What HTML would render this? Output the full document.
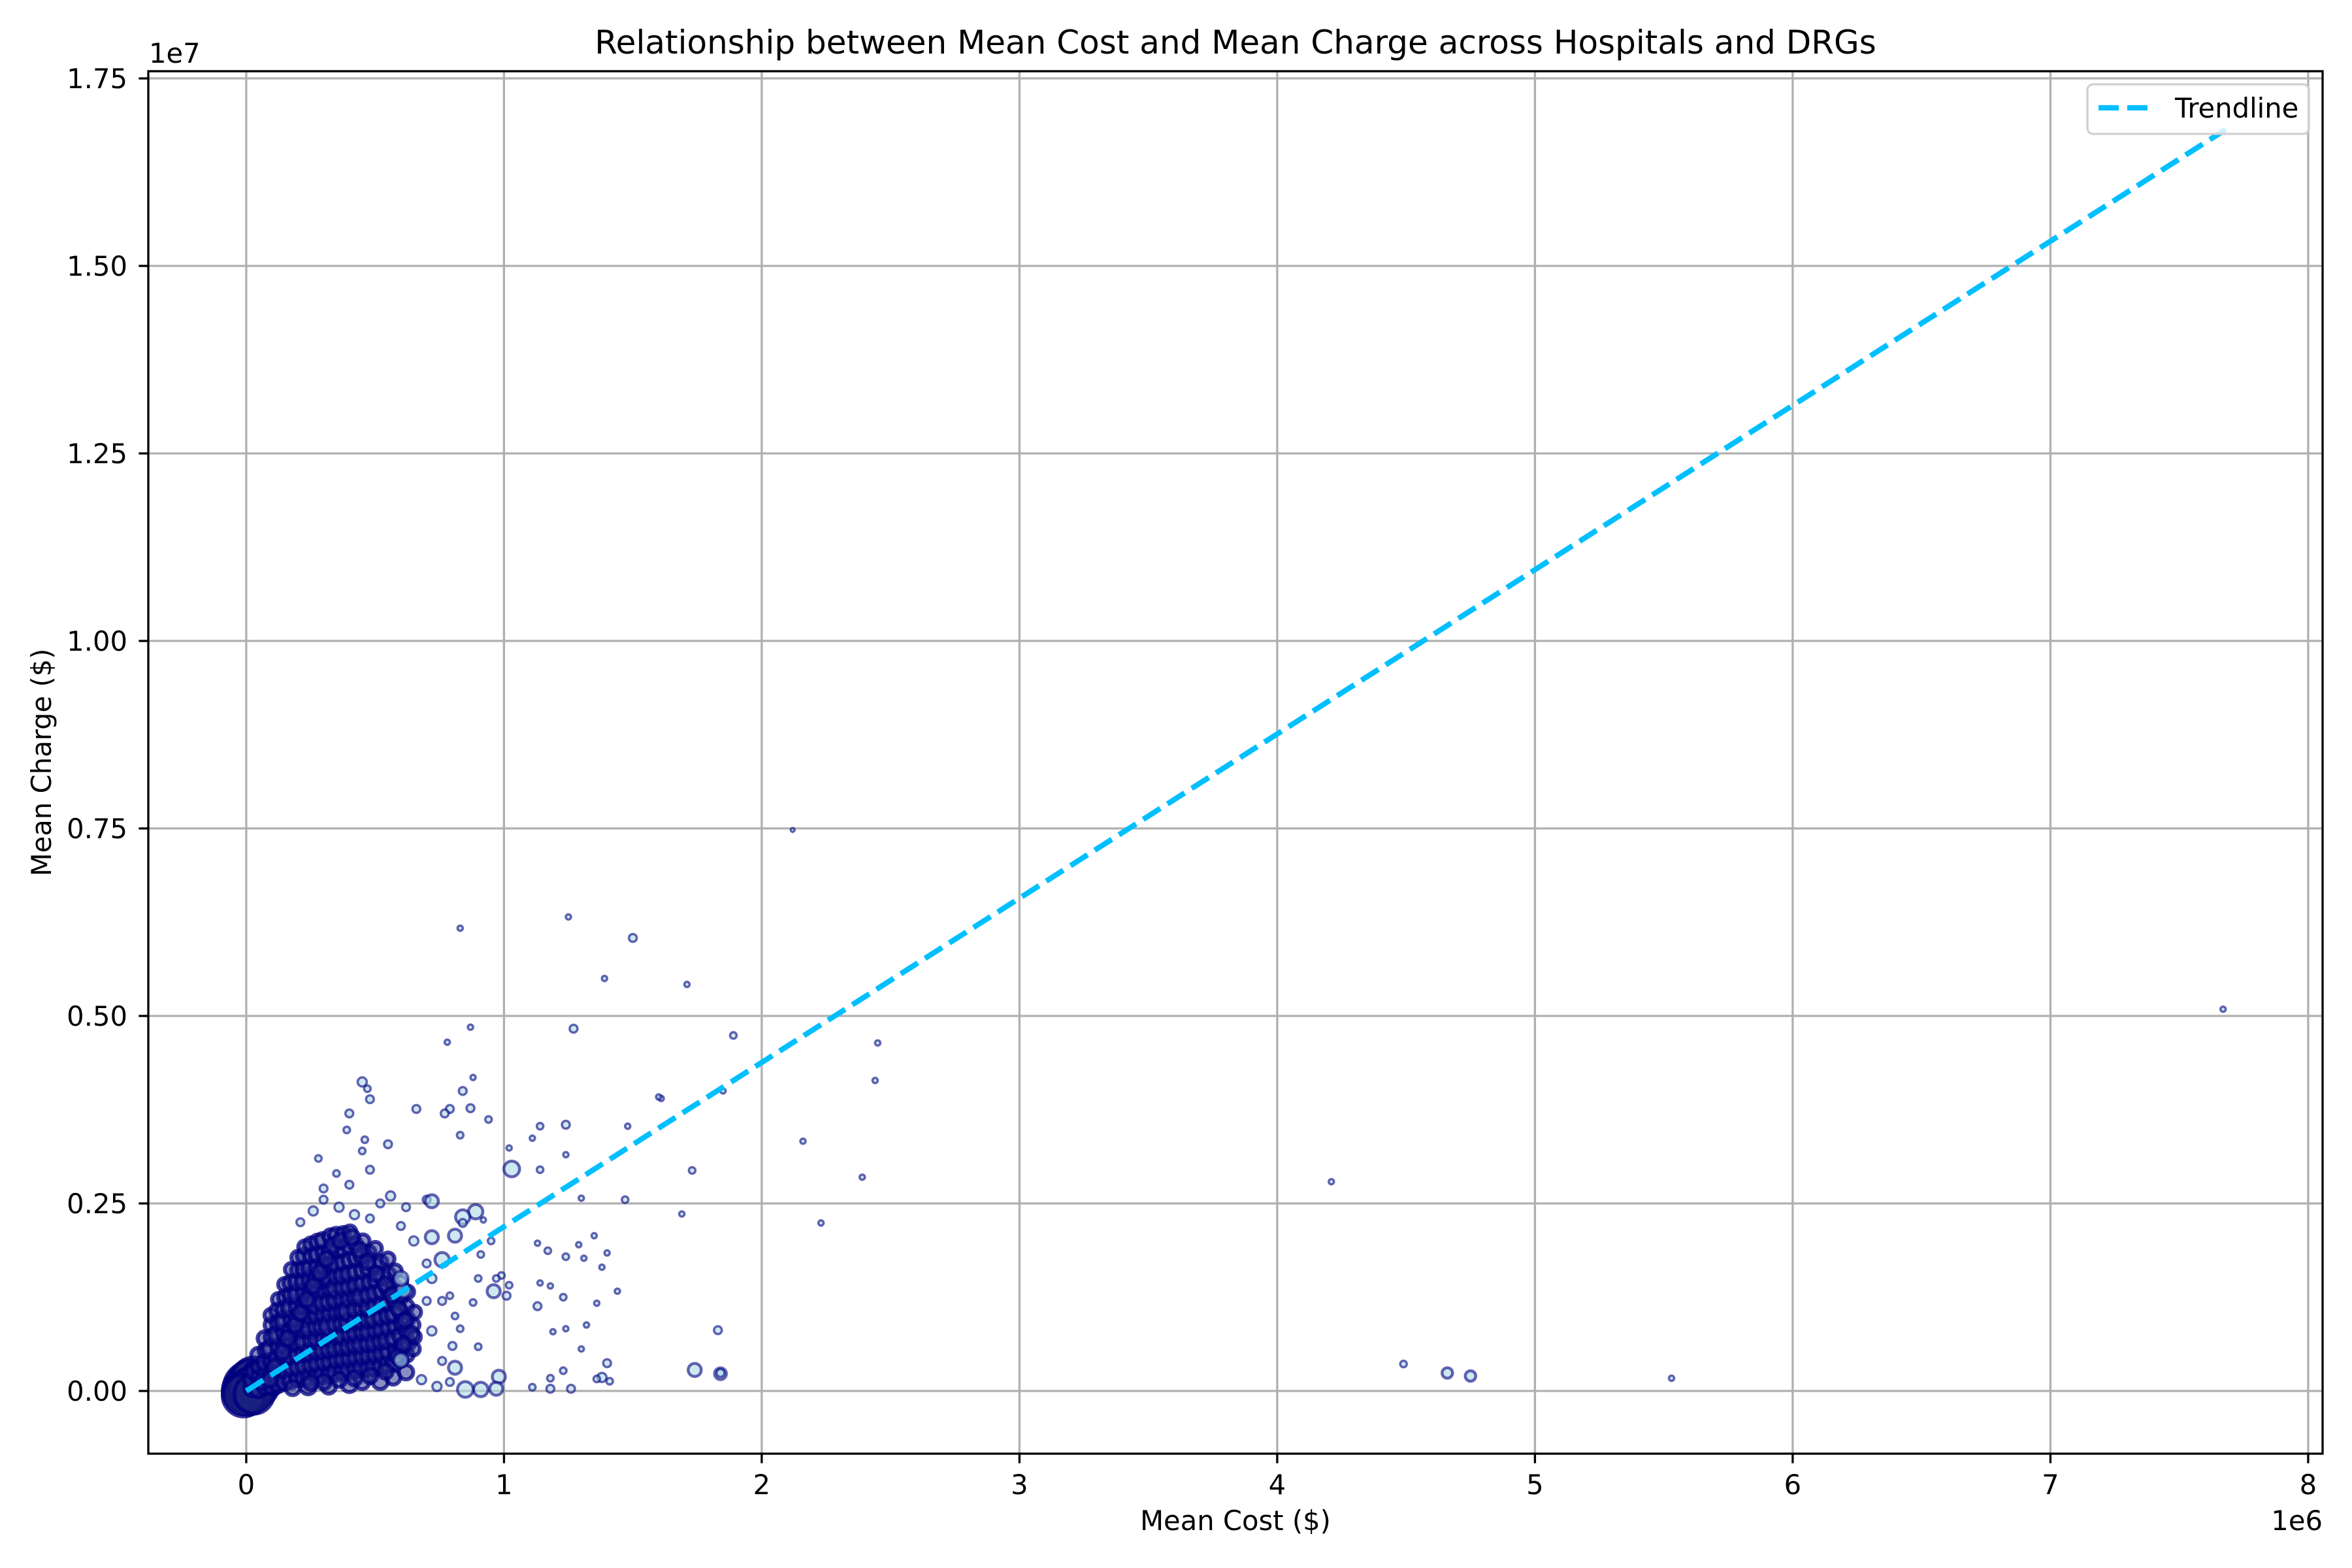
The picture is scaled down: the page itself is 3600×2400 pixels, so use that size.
<!DOCTYPE html>
<html><head><meta charset="utf-8"><style>
html,body{margin:0;padding:0;background:#fff;}
svg{display:block;font-family:"DejaVu Sans","Liberation Sans",sans-serif;}
</style></head><body>
<svg id="chart" width="3600" height="2400" viewBox="0 0 3600 2400" xmlns="http://www.w3.org/2000/svg">
<rect x="0" y="0" width="3600" height="2400" fill="#fff"/>
<g id="grid"></g>
<g id="points"></g>
<g id="trend"></g>
<g id="axes"></g>
<text x="1891" y="82" font-size="50" text-anchor="middle">Relationship between Mean Cost and Mean Charge across Hospitals and DRGs</text>
<text x="1891" y="2342" font-size="41.7" text-anchor="middle">Mean Cost ($)</text>
<text transform="translate(78,1167) rotate(-90)" font-size="41.7" text-anchor="middle">Mean Charge ($)</text>
<text x="3555" y="2342" font-size="41.7" text-anchor="end">1e6</text>
<text x="228" y="96" font-size="41.7" text-anchor="start">1e7</text>
<g>
<rect x="3195" y="129" width="339" height="76" rx="9" fill="#fff" fill-opacity="0.8" stroke="#d0d0d0" stroke-width="3.3"/>
<line x1="3212" y1="165" x2="3287" y2="165" stroke="#00bfff" stroke-width="8.3" stroke-dasharray="31,13"/>
<text x="3329" y="180" font-size="41.7">Trendline</text>
</g>
</svg>
<script>
// values in thousands of dollars
const xTicks = [0,1,2,3,4,5,6,7,8];
const xTickLabels = ["0","1","2","3","4","5","6","7","8"];
const yTicks = [0,0.25,0.5,0.75,1.0,1.25,1.5,1.75];
const yTickLabels = ["0.00","0.25","0.50","0.75","1.00","1.25","1.50","1.75"];
const trendCost = [0, 7680];
const trendCharge = [0, 16819];
const originBubbles = [[0,0,30],[10,50,32],[20,100,30],[30,150,28],[5,-20,28],[40,80,25],[60,200,22],[50,40,22],[80,120,18],[15,20,26],[-10,-60,26],[30,-40,24]];
const clusterPoints = [
[25,40,8],[22,150,7],[28,260,6],
[48,30,8],[52,180,7],[50,330,6],[47,480,6],
[74,60,7],[78,220,8],[73,380,7],[76,540,6],[72,700,6],
[98,70,7],[103,240,8],[100,400,7],[97,560,9],[102,720,7],[99,880,6],[96,1010,5],
[124,90,7],[128,260,6],[122,430,8],[127,590,7],[123,750,9],[126,910,7],[121,1070,6],[125,1220,5],
[148,120,7],[152,290,8],[147,450,7],[153,610,8],[149,770,7],[151,930,10],[148,1090,7],[152,1250,6],[149,1420,5],
[174,140,7],[178,300,7],[172,470,8],[176,630,7],[173,790,8],[177,950,7],[174,1110,9],[176,1280,7],[172,1440,6],[175,1620,5],
[198,160,6],[203,320,8],[199,480,7],[202,640,8],[197,800,7],[201,960,8],[199,1120,7],[203,1290,10],[198,1450,7],[202,1610,6],[200,1780,5],
[224,170,7],[228,340,8],[222,500,7],[227,660,9],[223,820,7],[226,980,8],[224,1140,7],[228,1300,8],[222,1460,7],[226,1620,7],[224,1800,6],[227,1920,5],
[248,180,8],[252,350,7],[247,510,8],[253,680,7],[249,840,10],[251,1000,7],[248,1160,8],[252,1320,7],[250,1480,8],[247,1640,7],[253,1800,6],[250,1960,5],
[274,200,7],[278,370,8],[273,530,7],[277,690,8],[272,850,7],[276,1010,8],[274,1170,11],[278,1330,7],[273,1490,8],[276,1650,7],[274,1820,6],[277,1990,6],
[298,210,8],[303,380,7],[299,540,8],[302,700,7],[297,860,8],[301,1020,7],[299,1180,8],[303,1340,7],[298,1500,9],[302,1660,7],[300,1840,6],[297,2010,6],
[324,220,7],[328,390,8],[322,550,7],[327,710,8],[323,870,10],[326,1030,7],[324,1190,8],[328,1350,7],[322,1510,8],[326,1680,7],[324,1860,6],[327,2060,6],
[348,250,8],[352,410,7],[347,570,8],[353,730,7],[349,890,8],[351,1050,7],[348,1210,8],[352,1370,10],[350,1530,7],[347,1700,7],[353,1880,6],[350,2080,6],
[374,260,7],[378,420,8],[373,580,7],[377,740,9],[372,900,7],[376,1060,8],[374,1220,7],[378,1380,8],[373,1540,7],[376,1710,6],[374,1900,6],[377,2100,5],
[398,270,8],[402,430,7],[399,590,8],[403,750,7],[397,910,8],[401,1070,11],[399,1230,7],[402,1390,8],[398,1560,7],[401,1740,6],[399,1930,6],[402,2120,5],
[424,290,7],[428,450,8],[422,610,7],[427,770,8],[423,930,7],[426,1090,8],[424,1250,7],[428,1410,8],[422,1580,6],[426,1770,6],[424,1960,5],
[448,300,8],[452,460,7],[447,620,8],[453,780,7],[449,940,8],[451,1100,7],[448,1260,9],[452,1430,7],[450,1600,6],[447,1800,6],[453,2000,5],
[474,310,7],[478,470,8],[473,630,7],[477,790,8],[472,950,7],[476,1110,8],[474,1280,7],[478,1450,6],[473,1640,6],[476,1850,5],
[498,320,8],[502,480,7],[499,640,8],[503,800,7],[497,960,8],[501,1130,7],[499,1300,7],[502,1480,6],[498,1680,6],[501,1900,5],
[524,340,7],[528,500,8],[522,660,7],[527,820,8],[523,980,7],[526,1150,7],[524,1330,6],[528,1520,6],[522,1720,5],
[548,360,7],[552,520,7],[547,680,8],[553,840,7],[549,1000,7],[551,1170,6],[548,1360,6],[552,1560,5],[550,1760,5],
[574,380,7],[578,540,6],[573,700,7],[577,860,6],[572,1020,7],[576,1200,6],[574,1400,5],[578,1600,5],
[598,420,6],[602,580,6],[599,740,7],[603,900,6],[597,1060,6],[601,1250,5],[599,1450,5],
[624,480,5],[628,640,6],[622,800,5],[627,960,5],[623,1130,5],[626,1320,5],
[648,560,5],[652,720,5],[647,880,5],[653,1050,5],
[320,60,6],[400,90,7],[450,120,6],[520,130,7],[570,180,6],[620,250,6],[180,40,6],[240,60,7],
[60,120,6],[90,150,6],[110,320,6],[140,520,6],[160,700,6],[190,880,6],[210,1040,6],[235,1220,6],[260,1400,6],[285,1580,6],[310,1760,6],[335,1940,6],[365,2000,6],[410,2050,6],[440,1880,6],[470,1720,6],[505,1560,6],[540,1420,6],[565,1280,6],[590,1100,6],[615,940,6],[640,760,6],[610,620,6],[585,460,6],[540,260,6],[480,200,6],[420,170,6],[360,150,6],[300,120,6],[250,110,6]
];
const haloPoints = [
[210,2250,5],[260,2400,6],[300,2550,5],[360,2450,6],[420,2350,6],[480,2300,5],[520,2500,5],[560,2600,6],[620,2450,5],[700,2550,5],
[600,2200,5],[650,2000,6],[700,1700,5],[720,1500,6],[760,1200,5],[700,1200,5],[720,800,6],[760,400,5],[800,600,5],[680,150,6],[740,60,6],
[300,2700,5],[350,2900,4],[400,2750,5],[280,3100,4],[450,3200,4],[480,2950,5],
[450,4120,6],[470,4030,4],[480,3890,5],[400,3700,5],[390,3480,4],[660,3760,5],[790,3760,5],[770,3700,5],[840,4000,5],[870,3770,5],
[880,4180,3],[940,3620,4],[830,3410,4],[460,3350,4],[550,3290,5],[1240,3550,5],[1140,3530,4],[1480,3530,3],[1610,3900,3],
[1030,2960,11],[1730,2940,4],[2160,3330,3],[2230,2240,3],[1240,3150,3],[1140,2950,4],[1110,3370,3],[1020,3240,3],
[1470,2550,4],[1690,2360,3],[1300,2570,3],[1170,1870,4],[1130,1970,3],[1290,1950,3],[1240,1790,4],[1310,1770,3],[1400,1840,3],
[1380,1650,3],[1350,2070,3],[1440,1330,3],[1360,1170,3],[1320,880,3],[1300,560,3],[1240,830,3],[1190,790,3],[1230,1250,4],
[1130,1130,5],[1140,1440,3],[1180,1400,3],[1830,810,5],[1740,280,9],[1840,230,8],[1400,370,5],[1380,180,6],[1360,160,4],
[1410,130,4],[1230,270,4],[1180,170,4],[1260,30,5],[1180,30,5],[1110,50,4],[980,190,9],[970,30,9],[910,20,10],[850,20,11],
[810,310,9],[790,120,5],[960,1330,9],[1020,1410,4],[1010,1270,5],[990,1540,4],[970,1500,4],[910,1820,4],[950,2000,4],
[920,2280,3],[890,2390,10],[840,2320,10],[840,2240,5],[810,2070,9],[720,2050,9],[760,1750,10],[720,2530,9],[610,1340,10],
[600,1500,10],[600,410,10],[790,1270,4],[810,1000,4],[830,830,4],[900,590,4],[880,1180,4],[900,1500,4],
[830,6170,3],[1250,6320,3],[1500,6040,5],[1390,5500,3],[1710,5420,3],[1270,4830,5],[870,4850,3],[780,4650,3],[1890,4740,4],
[2450,4640,3],[2440,4140,3],[1600,3920,3],[1850,4000,3],[2120,7480,2],[2390,2850,3],[4210,2790,3],[7670,5090,3],
[4490,360,4],[4660,240,7],[4750,200,7],[5530,170,3],[1840,240,5]
];

const SVGNS = "http://www.w3.org/2000/svg";
const L = 227, R = 3555, T = 109, B = 2225;
const xMin = -380, xMax = 8056, yMin = -836, yMax = 17596;
function xs(v){ return L + (v - xMin) / (xMax - xMin) * (R - L); }
function ys(v){ return B - (v - yMin) / (yMax - yMin) * (B - T); }
function mk(tag, attrs, parent){
  const e = document.createElementNS(SVGNS, tag);
  for (const k in attrs) e.setAttribute(k, attrs[k]);
  parent.appendChild(e);
  return e;
}
const grid = document.getElementById('grid');
const axes = document.getElementById('axes');
const pts = document.getElementById('points');
const trend = document.getElementById('trend');

xTicks.forEach((t, i) => {
  const x = xs(t * 1000);
  const g = mk('line', {x1:x, y1:T, x2:x, y2:B, stroke:'#b0b0b0', 'stroke-width':3.3}, grid);
  
  
  const tk = mk('line', {x1:x, y1:B, x2:x, y2:B+14.6, stroke:'#000', 'stroke-width':3.3}, axes);
  
  
  const tl = mk('text', {x:x, y:2287, 'font-size':41.7, 'text-anchor':'middle'}, axes);
  tl.textContent = xTickLabels[i];
  
  
});
yTicks.forEach((t, i) => {
  const y = ys(t * 10000);
  const g = mk('line', {x1:L, y1:y, x2:R, y2:y, stroke:'#b0b0b0', 'stroke-width':3.3}, grid);
  
  
  const tk = mk('line', {x1:L-14.6, y1:y, x2:L, y2:y, stroke:'#000', 'stroke-width':3.3}, axes);
  
  
  const tl = mk('text', {x:195, y:y+15, 'font-size':41.7, 'text-anchor':'end'}, axes);
  tl.textContent = yTickLabels[i];
  
  
});
const frame = mk('rect', {x:L, y:T, width:R-L, height:B-T, fill:'none', stroke:'#000', 'stroke-width':3.3}, axes);



function drawPoint(p, r, sw, fill, fo, so){
  const c = mk('circle', {cx:xs(p[0]), cy:ys(p[1]), r:r, fill:fill, 'fill-opacity':fo, stroke:'#000080', 'stroke-opacity':so, 'stroke-width':sw}, pts);
  
  
}
originBubbles.forEach(p => drawPoint(p, p[2] + 6, 6, '#1a237e', 0.6, 0.8));
clusterPoints.forEach(p => drawPoint(p, p[2] + 5, 6, '#2a2f90', 0.55, 0.75));
haloPoints.forEach(p => drawPoint(p, p[2] + 1, p[2] > 6 ? 4.5 : 3.5, '#add8e6', 0.6, 0.6));

const tl = mk('line', {x1:xs(trendCost[0]), y1:ys(trendCharge[0]), x2:xs(trendCost[1]), y2:ys(trendCharge[1]), stroke:'#00bfff', 'stroke-width':8.3, 'stroke-dasharray':'31,13'}, trend);


</script>
</body></html>
